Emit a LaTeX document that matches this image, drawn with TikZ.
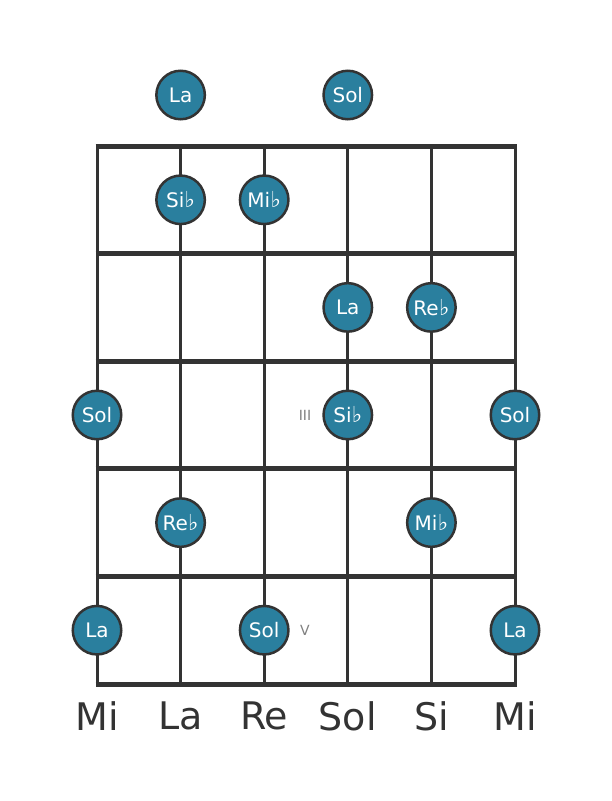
\documentclass[tikz,border=0pt]{standalone}
\usepackage{fontspec}
\setmainfont{DejaVu Sans}
\usepackage{xcolor}
\usetikzlibrary{positioning}
\definecolor{notefill}{RGB}{42,127,158}
\definecolor{gridgray}{RGB}{51,51,51}
\tikzset{
font={\fontsize{18pt}{18}\selectfont}}
\tikzset{
  note/.style={circle, draw=gridgray, line width=2.5pt, fill=notefill,
    minimum size=48.5pt, inner sep=0pt, text=white,
    font={\fontsize{20pt}{20}\selectfont}},
  stringline/.style={draw=gridgray, line width=3pt},
  fretline/.style={draw=gridgray, line width=5pt},
  fretnum/.style={text=gray, font={\fontsize{14pt}{14}\selectfont}},
  stringname/.style={text=gridgray, font={\fontsize{38pt}{38}\selectfont}}
}
\newcommand{\fl}{\kern0.3pt{\fontsize{22pt}{22}\selectfont ♭}}

\begin{document}
\begin{tikzpicture}[x=1pt, y=-1pt]
    \useasboundingbox (0, 0) rectangle (611, 801);
    % strings
    \draw [stringline] (97, 146) -- (97, 684);
    \draw [stringline] (180.6, 146) -- (180.6, 684);
    \draw [stringline] (264.2, 146) -- (264.2, 684);
    \draw [stringline] (347.8, 146) -- (347.8, 684);
    \draw [stringline] (431.4, 146) -- (431.4, 684);
    \draw [stringline] (515, 146) -- (515, 684);
    % frets
    \draw [fretline] (95.5, 146) -- (516.5, 146);
    \draw [fretline] (95.5, 253.6) -- (516.5, 253.6);
    \draw [fretline] (95.5, 361.2) -- (516.5, 361.2);
    \draw [fretline] (95.5, 468.8) -- (516.5, 468.8);
    \draw [fretline] (95.5, 576.4) -- (516.5, 576.4);
    \draw [fretline] (95.5, 684) -- (516.5, 684);

    % open strings
    \node [note] (open2) at (180.6, 95) {La};
    \node [note] (open4) at (347.8, 95) {Sol};
    % fret I
    \node [note] (f1s2) at (180.6, 199.8) {Si\fl};
    \node [note] (f1s3) at (264.2, 199.8) {Mi\fl};
    % fret II
    \node [note] (f2s4) at (347.8, 307.4) {La};
    \node [note] (f2s5) at (431.4, 307.4) {Re\fl};
    % fret III
    \node [note] (f3s1) at (97, 415) {Sol};
    \node [note] (f3s4) at (347.8, 415) {Si\fl};
    \node [note] (f3s6) at (515, 415) {Sol};
    \node [fretnum] (fret3) at (305, 415) {III};
    % fret IV
    \node [note] (f4s2) at (180.6, 522.6) {Re\fl};
    \node [note] (f4s5) at (431.4, 522.6) {Mi\fl};
    % fret V
    \node [note] (f5s1) at (97, 630.2) {La};
    \node [note] (f5s3) at (264.2, 630.2) {Sol};
    \node [note] (f5s6) at (515, 630.2) {La};
    \node [fretnum] (fret5) at (305, 630.2) {V};

    % string names
    \node [stringname] (name1) at (97, 716) {Mi};
    \node [stringname] (name2) at (180.6, 716) {La};
    \node [stringname] (name3) at (264.2, 716) {Re};
    \node [stringname] (name4) at (347.8, 716) {Sol};
    \node [stringname] (name5) at (431.4, 716) {Si};
    \node [stringname] (name6) at (515, 716) {Mi};
\end{tikzpicture}
\end{document}
